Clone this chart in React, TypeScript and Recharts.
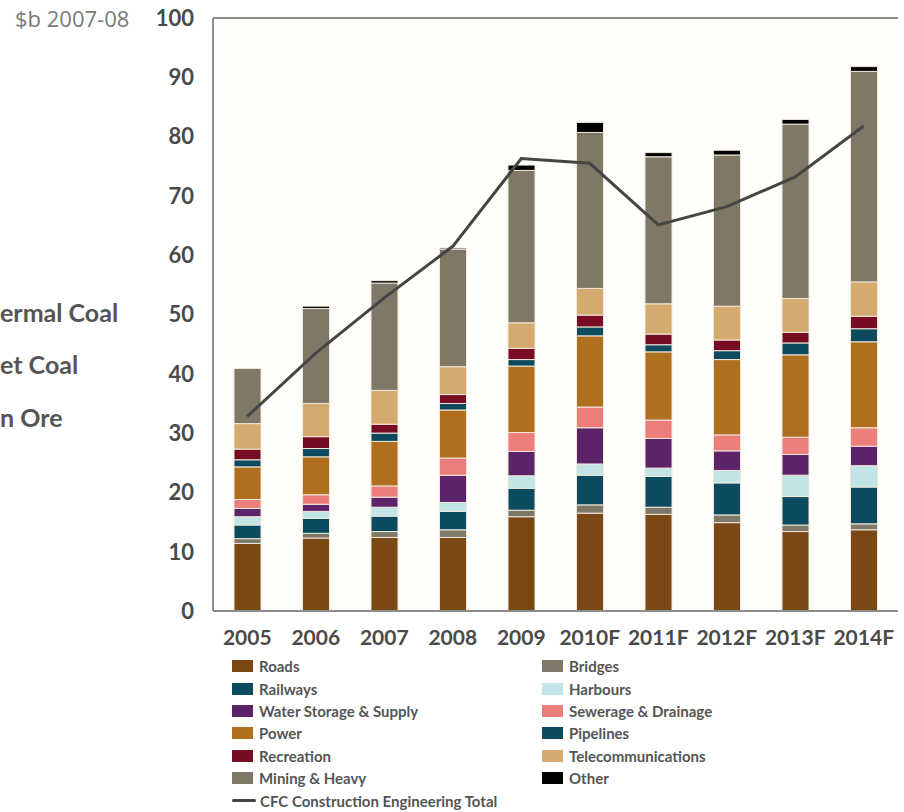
import React from 'react'
import {
  Bar,
  CartesianGrid,
  ComposedChart,
  Line,
  ReferenceLine,
  XAxis,
  YAxis,
} from 'recharts'

const years = ['2005', '2006', '2007', '2008', '2009', '2010F', '2011F', '2012F', '2013F', '2014F']

// $b 2007-08, by construction category
const roads = [11.4, 12.3, 12.4, 12.4, 15.9, 16.5, 16.3, 14.9, 13.4, 13.7]
const bridges = [0.8, 0.8, 1.0, 1.3, 1.1, 1.4, 1.2, 1.3, 1.1, 1.0]
const railways = [2.3, 2.5, 2.6, 3.1, 3.7, 5.0, 5.2, 5.4, 4.8, 6.2]
const harbours = [1.4, 1.2, 1.5, 1.5, 2.1, 1.9, 1.4, 2.1, 3.6, 3.6]
const waterStorage = [1.4, 1.2, 1.7, 4.6, 4.1, 6.1, 5.0, 3.3, 3.5, 3.3]
const sewerage = [1.5, 1.6, 1.9, 2.9, 3.2, 3.5, 3.1, 2.7, 2.9, 3.1]
const power = [5.5, 6.4, 7.5, 8.1, 11.2, 12.0, 11.5, 12.7, 13.9, 14.5]
const pipelines = [1.2, 1.4, 1.4, 1.1, 1.1, 1.5, 1.2, 1.5, 2.0, 2.2]
const recreation = [1.8, 2.0, 1.5, 1.5, 1.9, 2.0, 1.8, 1.8, 1.8, 2.1]
const telecom = [4.3, 5.6, 5.7, 4.7, 4.3, 4.5, 5.1, 5.7, 5.7, 5.8]
const mining = [9.3, 16.0, 18.1, 19.8, 25.7, 26.3, 24.8, 25.5, 29.4, 35.5]
const other = [0, 0.4, 0.4, 0.2, 0.9, 1.7, 0.7, 0.8, 0.8, 0.8]

const cfcTotal = [32.8, 43.5, 52.8, 61.5, 76.3, 75.5, 65.1, 68.2, 73.2, 81.8]

const yTicks = [0, 10, 20, 30, 40, 50, 60, 70, 80, 90, 100]

// leftover labels from the neighbouring panel
const sideLabels = ['ermal Coal', 'et Coal', 'n Ore']

// stack order, bottom to top
const series = [
  { key: 'roads', name: 'Roads', color: '#7a4814', values: roads },
  { key: 'bridges', name: 'Bridges', color: '#7f796a', values: bridges },
  { key: 'railways', name: 'Railways', color: '#0c4a5f', values: railways },
  { key: 'harbours', name: 'Harbours', color: '#c2e4e7', values: harbours },
  { key: 'water', name: 'Water Storage & Supply', color: '#5c2368', values: waterStorage },
  { key: 'sewerage', name: 'Sewerage & Drainage', color: '#ec7d7a', values: sewerage },
  { key: 'power', name: 'Power', color: '#b06e1f', values: power },
  { key: 'pipelines', name: 'Pipelines', color: '#0e4a5e', values: pipelines },
  { key: 'recreation', name: 'Recreation', color: '#780c22', values: recreation },
  { key: 'telecom', name: 'Telecommunications', color: '#d4aa6e', values: telecom },
  { key: 'mining', name: 'Mining & Heavy', color: '#7f7867', values: mining },
  { key: 'other', name: 'Other', color: '#000000', values: other },
]

const data = years.map((year, i) => {
  const row: Record<string, string | number> = { year, total: cfcTotal[i] }
  series.forEach((s) => {
    row[s.key] = s.values[i]
  })
  return row
})

const labelFont = 'Lato, "DejaVu Sans", sans-serif'
const gridColor = '#8d8d8d'
const textColor = '#4a4a4a'

// legend: left column takes the even entries, right column the odd ones
const leftLegend = series.filter((_, i) => i % 2 === 0)
const rightLegend = series.filter((_, i) => i % 2 === 1)

function LegendItem({ name, color }: { name: string; color: string }) {
  return (
    <div style={{ display: 'flex', alignItems: 'center', height: 22.4 }}>
      <div style={{ width: 21, height: 12, background: color, marginRight: 6 }} />
      <span style={{ fontFamily: labelFont, fontWeight: 700, fontSize: 15, color: '#555' }}>
        {name}
      </span>
    </div>
  )
}

export default function App() {
  return (
    <div style={{ position: 'absolute', left: 0, top: 0, width: 904, height: 812, background: '#fff', overflow: 'hidden' }}>
      <ComposedChart
        width={904}
        height={812}
        data={data}
        margin={{ top: 18, right: 6, bottom: 161, left: 0 }}
      >
        <CartesianGrid
          vertical={false}
          stroke={gridColor}
          strokeWidth={2}
          fill="#fffefa"
        />
        <XAxis
          dataKey="year"
          tickLine={false}
          axisLine={{ stroke: gridColor, strokeWidth: 2 }}
          height={40}
          tickMargin={13}
          interval={0}
          tick={{ fontFamily: labelFont, fontWeight: 700, fontSize: 21, fill: textColor }}
        />
        <YAxis
          yAxisId="left"
          domain={[0, 100]}
          ticks={yTicks}
          width={213}
          tickLine={false}
          tickMargin={13}
          axisLine={{ stroke: gridColor, strokeWidth: 2 }}
          tick={{ fontFamily: labelFont, fontWeight: 700, fontSize: 22, fill: textColor }}
        />
        <YAxis
          yAxisId="right"
          orientation="right"
          domain={[0, 100]}
          width={0}
          tick={false}
          tickLine={false}
          axisLine={{ stroke: gridColor, strokeWidth: 2 }}
        />
        <ReferenceLine yAxisId="left" y={100} stroke={gridColor} strokeWidth={2} />
        {series.map((s) => (
          <Bar
            key={s.key}
            yAxisId="left"
            dataKey={s.key}
            name={s.name}
            stackId="total"
            fill={s.color}
            stroke="#efe9dc"
            strokeWidth={1}
            barSize={27}
            isAnimationActive={false}
          />
        ))}
        <Line
          yAxisId="left"
          type="linear"
          dataKey="total"
          name="CFC Construction Engineering Total"
          stroke="#454545"
          strokeWidth={3}
          dot={false}
          isAnimationActive={false}
        />
      </ComposedChart>

      {/* unit label beside the top tick */}
      <div
        style={{
          position: 'absolute',
          left: 15,
          top: 3,
          fontFamily: '"Open Sans", sans-serif',
          fontSize: 22,
          color: '#7a7a7a',
        }}
      >
        $b 2007-08
      </div>

      <svg style={{ position: 'absolute', left: 0, top: 0 }} width={140} height={440}>
        {sideLabels.map((text, i) => (
          <text
            key={text}
            x={0}
            y={313 + i * 52.5}
            dy="0.35em"
            textAnchor="start"
            fontFamily={labelFont}
            fontWeight={700}
            fontSize={25}
            fill="#555"
          >
            {text}
          </text>
        ))}
      </svg>

      <div style={{ position: 'absolute', left: 232, top: 655 }}>
        {leftLegend.map((s) => (
          <LegendItem key={s.key} name={s.name} color={s.color} />
        ))}
        <div style={{ display: 'flex', alignItems: 'center', height: 22.4 }}>
          <div style={{ width: 24, height: 3, background: '#454545', marginRight: 4, borderRadius: 2 }} />
          <span style={{ fontFamily: labelFont, fontWeight: 700, fontSize: 15, color: '#555' }}>
            CFC Construction Engineering Total
          </span>
        </div>
      </div>
      <div style={{ position: 'absolute', left: 542, top: 655 }}>
        {rightLegend.map((s) => (
          <LegendItem key={s.key} name={s.name} color={s.color} />
        ))}
      </div>
    </div>
  )
}
